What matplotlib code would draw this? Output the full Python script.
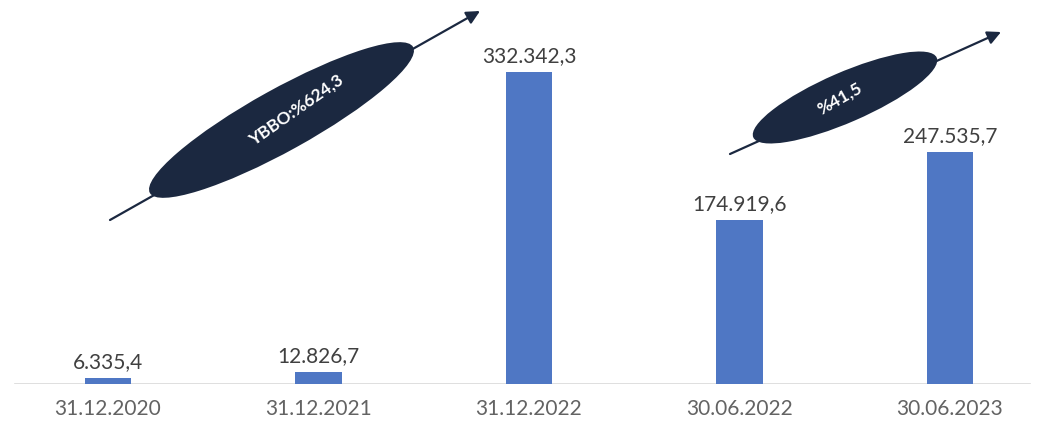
import matplotlib.pyplot as plt
from matplotlib.patches import Ellipse

# Dönem sonu bakiyeleri
dates = ["31.12.2020", "31.12.2021", "31.12.2022", "30.06.2022", "30.06.2023"]
values = [6335.4, 12826.7, 332342.3, 174919.6, 247535.7]
value_labels = ["6.335,4", "12.826,7", "332.342,3", "174.919,6", "247.535,7"]
growth_labels = ["YBBO:%624,3", "%41,5"]

W, H = 1045, 428
plt.rcParams['font.family'] = ['Lato', 'DejaVu Sans']

fig = plt.figure(figsize=(W / 100, H / 100), dpi=100)
fig.patch.set_facecolor('white')

# --- Çubuk grafik ---
ax = fig.add_axes([0, 44 / H, 1, 384 / H])
x = list(range(len(values)))
ax.bar(x, values, width=0.22, color='#4f77c4', zorder=2)
ax.set_xlim(-108 / 210.5, -108 / 210.5 + W / 210.5)
ax.set_ylim(0, values[2] * 384 / 312)
ax.axhline(0, xmin=15 / W, xmax=1030 / W, color='#d9d9d9', lw=1.2, zorder=1)

for xi, v, lab in zip(x, values, value_labels):
    ax.annotate(lab, (xi, v), xytext=(0, 4), textcoords='offset points',
                ha='center', va='bottom', fontsize=15, color='#404040')

ax.set_xticks(x)
ax.set_xticklabels(dates, fontsize=15, color='#636363')
ax.tick_params(axis='x', length=0, pad=11)
ax.set_yticks([])
for s in ax.spines.values():
    s.set_visible(False)
ax.patch.set_alpha(0)

# --- Büyüme oranı balonları (piksel koordinatları, y yukarı) ---
ov = fig.add_axes([0, 0, 1, 1])
ov.set_xlim(0, W)
ov.set_ylim(0, H)
ov.axis('off')
ov.patch.set_alpha(0)

navy = '#1b2840'
arrows = [((110, H - 220), (480, H - 11)), ((730, H - 154), (1001, H - 32))]
ellipses = [((281.5, H - 120), 301, 62, 29), ((845, H - 97.5), 200, 50, 23.5)]
text_pos = [(296, H - 110), (840, H - 99)]

for (start, end), (c, w, h, ang), tp, txt in zip(arrows, ellipses, text_pos,
                                                 growth_labels):
    ov.annotate('', xy=end, xytext=start,
                arrowprops=dict(arrowstyle='-|>', color=navy, lw=1.6,
                                mutation_scale=20, shrinkA=0, shrinkB=0))
    ov.add_patch(Ellipse(c, w, h, angle=ang, facecolor=navy,
                         edgecolor='none', zorder=3))
    ov.text(tp[0], tp[1], txt, rotation=ang + 6, rotation_mode='anchor',
            ha='center', va='center', color='white', fontsize=12.5,
            fontweight='bold', zorder=4)

fig.savefig('out.png', dpi=100)
